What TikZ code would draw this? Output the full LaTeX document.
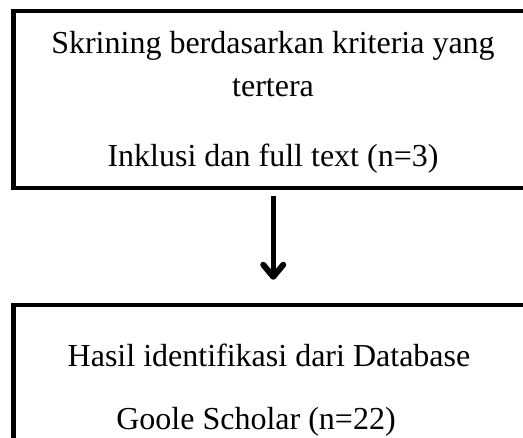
\documentclass[tikz,border=0pt]{standalone}
\usepackage{fontspec}
\setmainfont{Liberation Serif}
\usetikzlibrary{arrows.meta,positioning}
\tikzset{
  box/.style={draw=black, line width=4.5pt, rectangle, inner sep=0pt},
  flow/.style={-{Straight Barb[length=12pt,width=20pt,line width=6pt 0,round]}, line width=5.5pt, black},
  txt/.style={font=\fontsize{32}{43}\selectfont, inner sep=0pt, anchor=base},
}

\begin{document}
\begin{tikzpicture}[x=1pt,y=-1pt]
    \useasboundingbox (0,0) rectangle (523,438);
    \node[box, minimum width=519.5pt, minimum height=177pt] (screen) at (273.25,99.5) {};
    \node[box, minimum width=519.5pt, minimum height=145pt] (ident) at (273.25,377.5) {};
    \node[txt] (screen1) at (273,53.3) {Skrining berdasarkan kriteria yang};
    \node[txt] (screen2) at (273,96.7) {tertera};
    \node[txt] (screen3) at (273,166.7) {Inklusi dan full text (n=3)};
    \node[txt] (ident1) at (269,366.7) {Hasil identifikasi dari Database};
    \node[txt] (ident2) at (256,430) {Goole Scholar (n=22)};
    \draw[flow, shorten <=6pt, shorten >=23pt] (screen.south) -- (ident.north);
  \end{tikzpicture}
\end{document}
